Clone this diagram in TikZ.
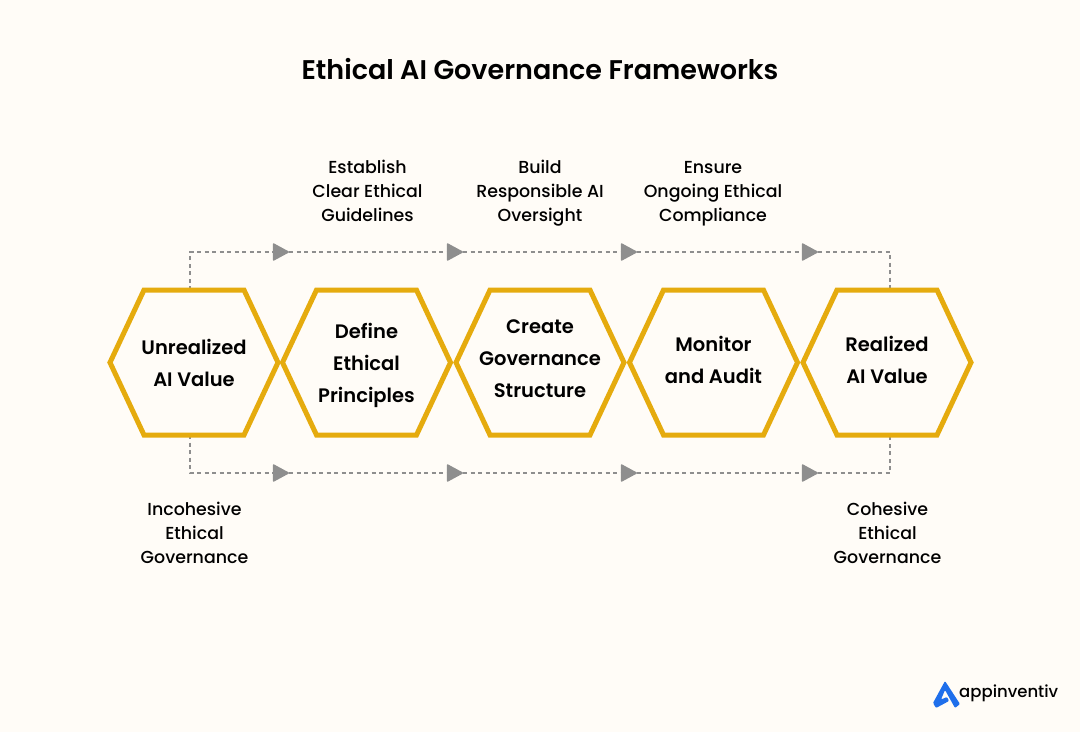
\documentclass[tikz,border=0pt]{standalone}
\usepackage{fontspec}
\setmainfont{Poppins Medium}[BoldFont={Poppins SemiBold}]
\usetikzlibrary{arrows.meta}
\definecolor{pagebg}{HTML}{FFFCF7}
\definecolor{hexgold}{HTML}{E5AB0E}
\definecolor{flowgray}{HTML}{8E8E8E}
\definecolor{logoblue}{HTML}{1F6FEB}
\tikzset{
  hexline/.style={draw=hexgold,line width=5pt,miter limit=4},
  hexbox/.style={inner sep=0pt,align=center,text=black,
    font=\fontsize{19.5}{32}\selectfont\bfseries},
  sidetext/.style={align=center,text=black,font=\fontsize{17.4}{24}\selectfont},
  flowline/.style={draw=flowgray,line width=1.5pt,dash pattern=on 4pt off 3.5pt},
  flowtip/.style={flowline,-{Triangle[length=17pt,width=18pt,fill=flowgray,round]}},
}
\begin{document}
\begin{tikzpicture}[x=1pt,y=-1pt]
  \fill[pagebg] (0,0) rectangle (1080,732);
  \useasboundingbox (0,0) rectangle (1080,732);
  \node[font=\fontsize{27}{32}\selectfont\bfseries] (title) at (540,69) {Ethical AI Governance Frameworks};

  \coordinate (ustart) at (190,290);
  \coordinate (ta) at (190,252);
  \coordinate (tb) at (289,252);
  \coordinate (tc) at (463,252);
  \coordinate (td) at (637,252);
  \coordinate (te) at (818,252);
  \coordinate (tf) at (890,252);
  \coordinate (uend) at (890,290);
  \coordinate (lstart) at (190,435);
  \coordinate (ba) at (190,473);
  \coordinate (bb) at (289,473);
  \coordinate (bc) at (463,473);
  \coordinate (bd) at (637,473);
  \coordinate (be) at (818,473);
  \coordinate (bf) at (890,473);
  \coordinate (lend) at (890,435);

  \draw[flowtip] (ustart) -- (ta) -- (tb);
  \draw[flowtip] (tb) -- (tc);
  \draw[flowtip] (tc) -- (td);
  \draw[flowtip] (td) -- (te);
  \draw[flowline] (te) -- (tf) -- (uend);
  \draw[flowtip] (lstart) -- (ba) -- (bb);
  \draw[flowtip] (bb) -- (bc);
  \draw[flowtip] (bc) -- (bd);
  \draw[flowtip] (bd) -- (be);
  \draw[flowline] (be) -- (bf) -- (lend);

  \node[hexbox] (unreal) at (194,363) {Unrealized\\AI Value};
  \node[hexbox] (define) at (366.5,365.5) {Define\\Ethical\\Principles};
  \node[hexbox] (create) at (540,358.5) {Create\\Governance\\Structure};
  \node[hexbox] (monitor) at (713.5,360) {Monitor\\and Audit};
  \node[hexbox] (real) at (887,360) {Realized\\AI Value};

  \foreach \name in {unreal,define,create,monitor,real}
    \draw[hexline,shift={(\name |- 0,362.5)}] (-84,0) -- (-50,-72.5) -- (50,-72.5) -- (84,0) -- (50,72.5) -- (-50,72.5) -- cycle;

  \node[sidetext] (est) at (367.5,190.8) {Establish\\Clear Ethical\\Guidelines};
  \node[sidetext] (build) at (540,193.5) {Build\\Responsible AI\\Oversight};
  \node[sidetext] (ensure) at (713,193.5) {Ensure\\Ongoing Ethical\\Compliance};
  \node[sidetext] (incoh) at (194.5,532.8) {Incohesive\\Ethical\\Governance};
  \node[sidetext] (coh) at (887.5,532.8) {Cohesive\\Ethical\\Governance};

  \fill[logoblue,rounded corners=1pt] (945,681) -- (960,704) -- (955,708) -- (945,690) -- (941,699.5) -- (947,697) -- (949,701) -- (936,708) -- (933,703) -- cycle;
  \node[font=\fontsize{16.5}{20}\selectfont,anchor=west,inner sep=0pt] (brand) at (959,693) {appinventiv};
\end{tikzpicture}
\end{document}
